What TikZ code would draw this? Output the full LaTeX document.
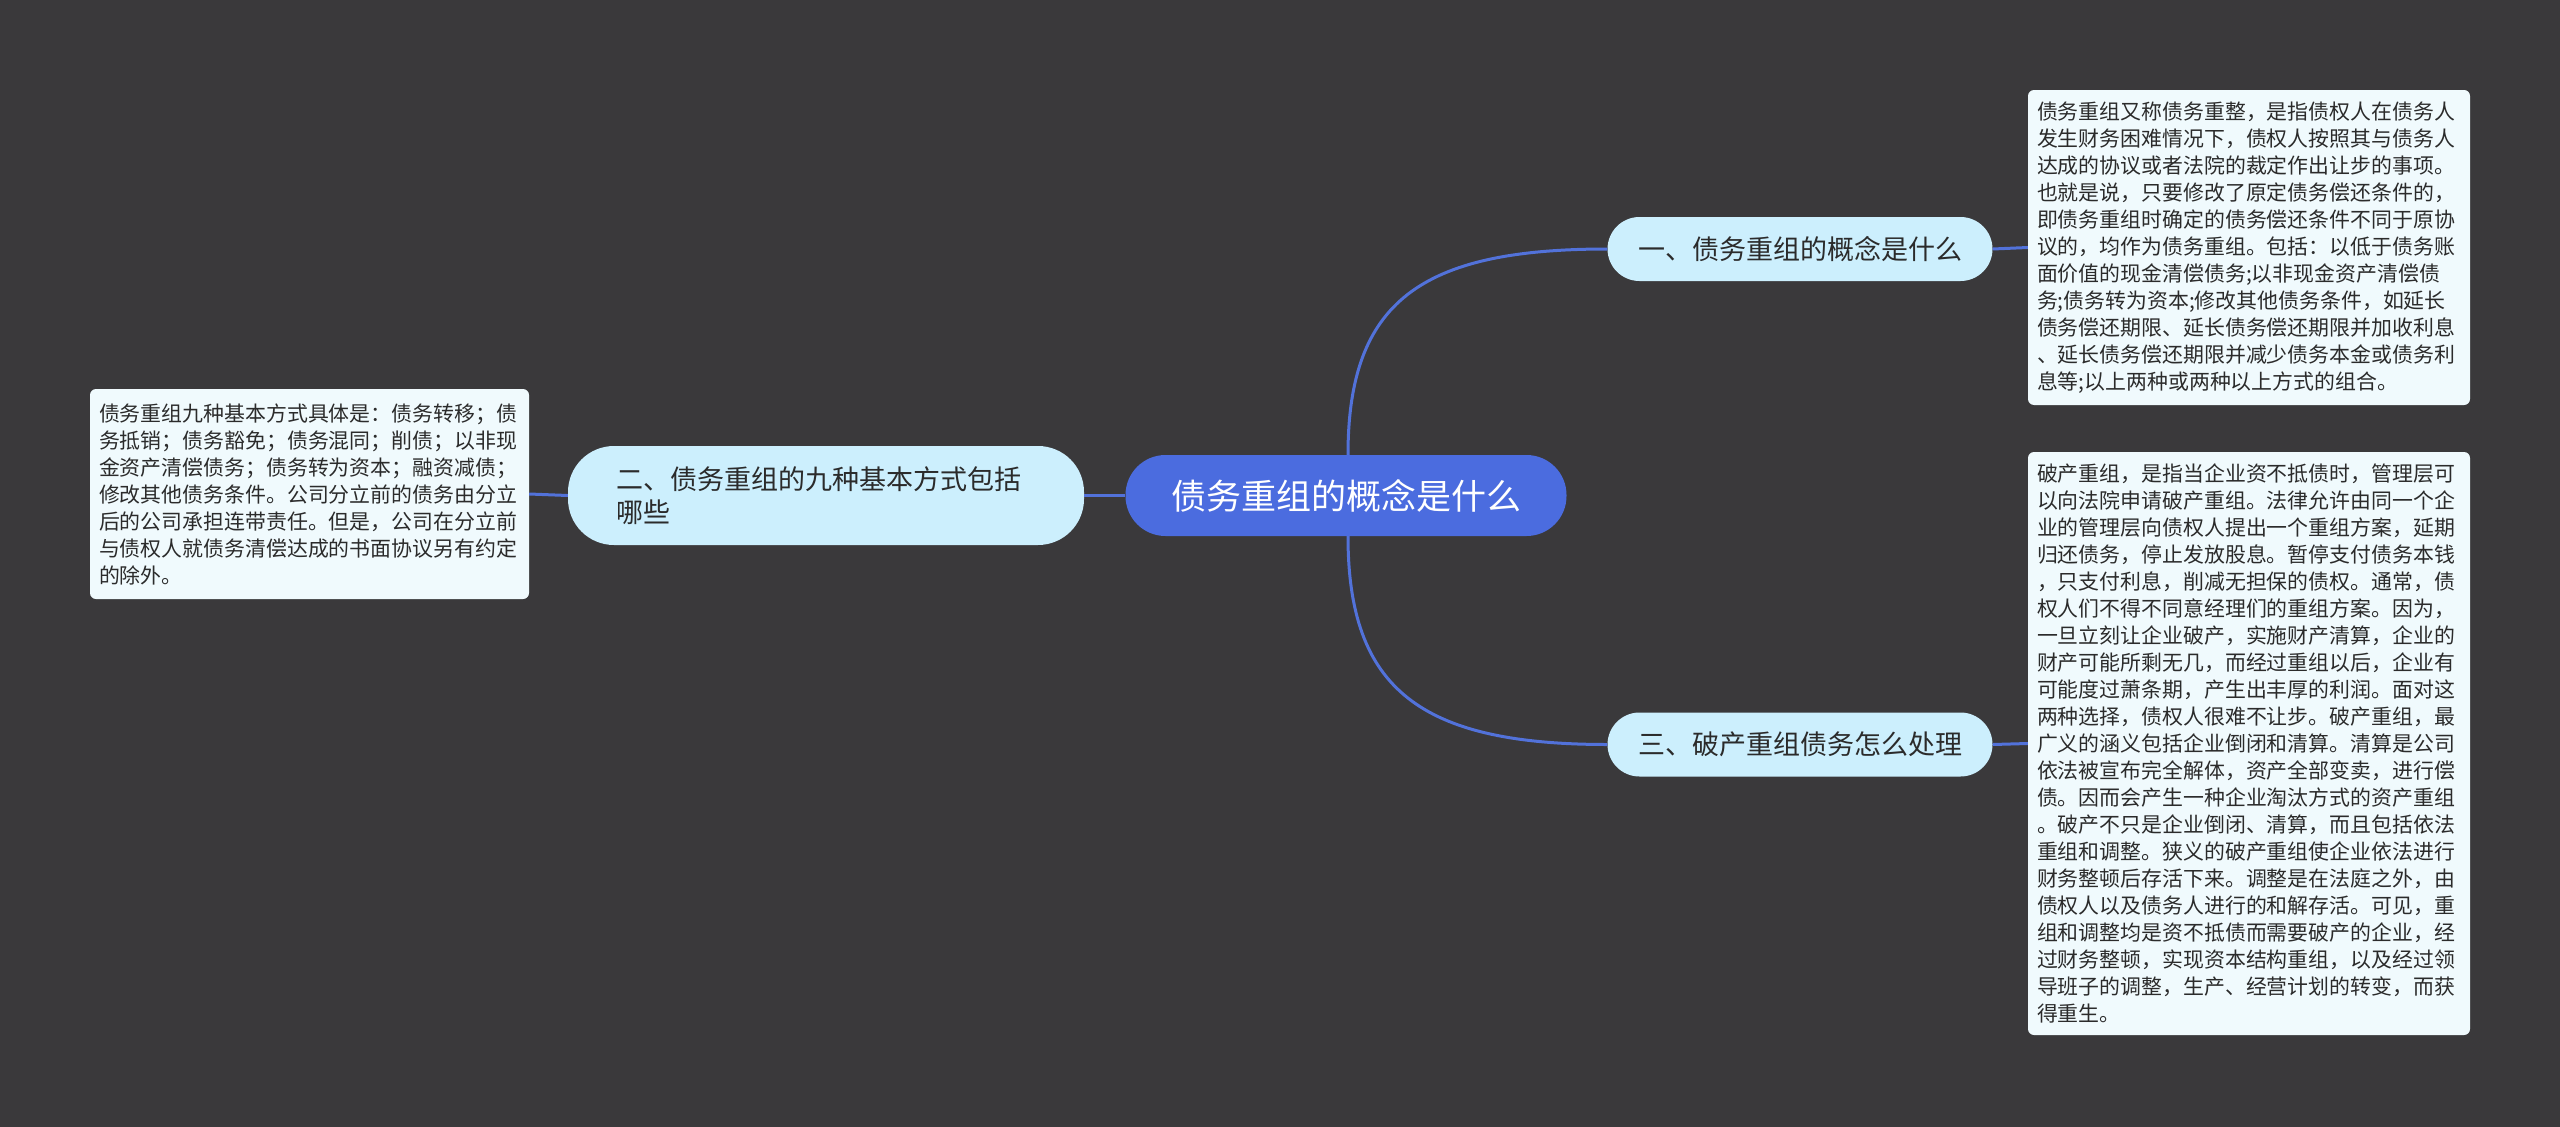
\documentclass[tikz,border=0pt]{standalone}
\usepackage{fontspec}
\setmainfont{Noto Sans CJK SC}
\definecolor{bg}{HTML}{3A393B}
\definecolor{rootblue}{HTML}{4B6CDF}
\definecolor{edgeblue}{HTML}{5272DA}
\definecolor{pillfill}{HTML}{CCEFFD}
\definecolor{boxfill}{HTML}{F0FAFD}
\definecolor{txt}{HTML}{2B2B2B}
\begin{document}
\begin{tikzpicture}[x=1pt,y=-1pt,
  rootnode/.style={fill=rootblue, text=white, rounded corners=40pt, minimum width=441pt, minimum height=81pt, inner sep=0pt, font=\fontsize{35pt}{42pt}\selectfont},
  pill/.style={fill=pillfill, text=txt, rounded corners=32pt, minimum width=385pt, minimum height=64pt, inner sep=0pt, font=\fontsize{27pt}{33pt}\selectfont},
  tbox/.style={fill=boxfill, text=txt, rounded corners=6pt, text width=424pt, inner xsep=9pt, inner ysep=0pt, align=left, font=\fontsize{20.9pt}{27pt}\selectfont},
  edge/.style={draw=edgeblue, line width=3pt}
]
\useasboundingbox (0,0) rectangle (2560,1127);
\fill[bg] (0,0) rectangle (2560,1127);

\node[rootnode] (root) at (1346,495.5) {债务重组的概念是什么};
\node[pill] (n1) at (1800,249) {一、债务重组的概念是什么};
\node[pill] (n3) at (1800,744.5) {三、破产重组债务怎么处理};
\node[pill, minimum width=516pt, minimum height=99pt, rounded corners=46pt, text width=420pt, align=left] (n2) at (826,495.5) {二、债务重组的九种基本方式包括\\哪些};

\node[tbox, minimum height=315pt] (b1) at (2249,247.5) {债务重组又称债务重整，是指债权人在债务人\\发生财务困难情况下，债权人按照其与债务人\\达成的协议或者法院的裁定作出让步的事项。\\也就是说，只要修改了原定债务偿还条件的，\\即债务重组时确定的债务偿还条件不同于原协\\议的，均作为债务重组。包括：以低于债务账\\面价值的现金清偿债务;以非现金资产清偿债\\务;债务转为资本;修改其他债务条件，如延长\\债务偿还期限、延长债务偿还期限并加收利息\\、延长债务偿还期限并减少债务本金或债务利\\息等;以上两种或两种以上方式的组合。};

\node[tbox, minimum height=583pt] (b3) at (2249,743.5) {破产重组，是指当企业资不抵债时，管理层可\\以向法院申请破产重组。法律允许由同一个企\\业的管理层向债权人提出一个重组方案，延期\\归还债务，停止发放股息。暂停支付债务本钱\\，只支付利息，削减无担保的债权。通常，债\\权人们不得不同意经理们的重组方案。因为，\\一旦立刻让企业破产，实施财产清算，企业的\\财产可能所剩无几，而经过重组以后，企业有\\可能度过萧条期，产生出丰厚的利润。面对这\\两种选择，债权人很难不让步。破产重组，最\\广义的涵义包括企业倒闭和清算。清算是公司\\依法被宣布完全解体，资产全部变卖，进行偿\\债。因而会产生一种企业淘汰方式的资产重组\\。破产不只是企业倒闭、清算，而且包括依法\\重组和调整。狭义的破产重组使企业依法进行\\财务整顿后存活下来。调整是在法庭之外，由\\债权人以及债务人进行的和解存活。可见，重\\组和调整均是资不抵债而需要破产的企业，经\\过财务整顿，实现资本结构重组，以及经过领\\导班子的调整，生产、经营计划的转变，而获\\得重生。};

\node[tbox, text width=421pt, minimum height=210pt] (b2) at (309.5,494) {债务重组九种基本方式具体是：债务转移；债\\务抵销；债务豁免；债务混同；削债；以非现\\金资产清偿债务；债务转为资本；融资减债；\\修改其他债务条件。公司分立前的债务由分立\\后的公司承担连带责任。但是，公司在分立前\\与债权人就债务清偿达成的书面协议另有约定\\的除外。};

\draw[edge] ([xshift=2pt]root.north) .. controls +(0,-153) and +(-187,0) .. (n1.west);
\draw[edge] ([xshift=2pt]root.south) .. controls +(0,153) and +(-187,0) .. (n3.west);
\draw[edge] (root.west) -- (n2.east);
\draw[edge] (n2.west) -- (b2.east);
\draw[edge] (n1.east) -- (b1.west);
\draw[edge] (n3.east) -- (b3.west);
\end{tikzpicture}
\end{document}
